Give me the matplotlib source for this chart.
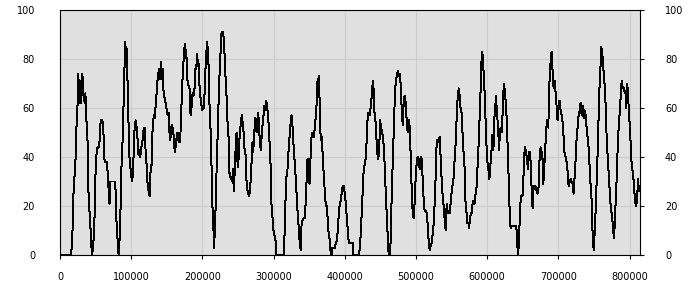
import numpy as np
import matplotlib
matplotlib.use("Agg")
import matplotlib.pyplot as plt

# values (x in thousands, y in %)
x_k = [0, 14.5, 15.4, 16.8, 17.8, 19.2, 20.6, 22.0, 23.4, 24.8, 25.7, 26.7, 27.1, 28.1, 29.0, 29.9,
       30.9, 32.3, 33.2, 34.2, 35.1, 35.6, 36.5, 37.4, 38.8, 39.8, 41.2, 42.6, 44.0, 44.9, 46.3,
       47.3, 48.7, 50.1, 51.5, 52.9, 54.7, 55.7, 57.1, 59.4, 60.8, 61.8, 63.2, 65.5, 66.4, 67.8,
       68.8, 69.7, 70.6, 77.7, 78.6, 80.0, 81.4, 82.3, 83.3, 84.7, 85.6, 87.0, 88.4, 89.8, 90.8,
       91.7, 92.6, 93.6, 94.5, 95.4, 96.8, 97.8, 99.2, 101.1, 102.5, 103.9, 104.8, 106.2, 107.6,
       109.0, 109.9, 111.3, 112.7, 114.2, 115.6, 117.0, 117.9, 119.3, 120.2, 121.6, 123.0, 124.4,
       125.8, 127.3, 128.7, 129.6, 131.0, 131.9, 133.3, 134.3, 135.7, 137.1, 138.5, 139.4, 140.4,
       141.8, 142.7, 144.1, 145.0, 146.4, 147.8, 149.2, 150.2, 151.1, 152.5, 153.5, 154.9, 156.3,
       157.2, 158.6, 159.5, 160.5, 161.9, 162.8, 164.2, 165.1, 166.1, 167.5, 168.9, 169.8, 171.2,
       172.2, 173.6, 174.5, 175.9, 176.8, 178.2, 179.2, 180.6, 182.0, 182.9, 184.3, 185.3, 186.7,
       187.6, 189.0, 189.9, 191.3, 192.7, 193.7, 194.6, 195.6, 196.5, 197.9, 198.8, 199.8, 201.2,
       202.1, 203.0, 204.0, 205.4, 206.8, 207.7, 208.7, 210.1, 211.5, 212.4, 213.8, 215.2, 216.6,
       217.5, 219.0, 220.4, 221.8, 223.2, 224.6, 225.5, 226.9, 229.2, 230.6, 231.6, 233.0, 233.9,
       235.3, 236.7, 237.7, 239.1, 240.5, 241.9, 242.8,
       244.2, 245.6, 247.0, 248.0, 248.9, 250.3, 251.2, 252.6, 254.0, 255.4, 256.4, 257.8, 259.2,
       260.6, 262.0, 263.4, 265.3, 266.7, 268.1, 269.5, 270.4, 271.3, 272.3, 273.2, 274.2, 275.1,
       276.1, 277.5, 278.4, 279.8, 280.7, 282.1, 283.1, 284.4, 285.9, 286.8, 288.2, 289.6, 290.5,
       291.5, 292.9, 294.3, 295.7, 297.1, 298.5, 299.9, 301.3, 302.7, 303.6, 314.4, 315.3, 316.7,
       318.1, 319.5, 320.9, 322.3, 323.7, 325.1, 326.1, 327.5, 328.9, 330.3, 331.7, 333.1, 334.5,
       335.9, 337.3, 338.3, 339.2, 340.6, 342.0, 343.4, 344.8, 346.2, 347.6, 349.5, 350.4, 351.4,
       352.8, 354.2, 355.6, 356.5, 357.9, 359.3, 360.7, 361.7, 363.1, 364.0, 364.9, 366.3, 367.7,
       369.1, 370.5, 371.9, 373.3, 374.7, 376.1, 377.5, 378.9, 380.3, 381.7, 382.7, 384.1, 386.0,
       387.4, 388.8, 390.2, 391.6, 393.0, 394.4, 395.8, 397.2, 398.6, 400.0, 401.4, 402.8, 404.2,
       405.6, 407.0, 409.4, 410.8, 411.7, 420.1, 421.0, 422.5, 423.9, 425.3, 426.7, 428.1, 429.5,
       430.9, 432.3, 433.7, 435.1, 436.5, 437.9, 439.3, 440.2, 441.2, 442.6, 444.0, 445.4, 446.8,
       448.2, 449.6, 451.0, 452.4, 453.8, 455.2, 456.6, 458.0, 459.4, 460.8, 461.8, 463.7, 464.6,
       466.0, 467.4, 468.8, 470.2, 471.6, 473.0, 474.4, 475.8, 477.2, 478.6, 480.0, 481.4, 482.8,
       484.2, 485.6, 487.0, 488.4, 489.8, 491.2, 492.6, 494.0, 495.4, 496.8, 498.2, 499.6, 501.0,
       502.4, 503.8, 505.2, 506.6, 508.0, 509.4, 510.8, 512.2, 513.6, 515.1, 516.5, 517.9, 519.3,
       520.7, 522.1, 523.5, 524.9, 526.3, 527.7, 529.1, 530.5, 531.9, 533.3, 534.7, 536.1, 537.5,
       538.9, 540.3, 541.7, 543.1, 544.5, 545.9, 547.4, 548.8, 550.2, 551.6, 553.0, 554.4, 555.8,
       557.2, 558.6, 560.0,
       561.4, 562.8, 564.2, 565.6, 567.0, 568.4, 569.4, 570.8, 572.2, 573.6, 574.5, 575.5, 576.9,
       578.3, 579.7, 581.1, 582.5, 583.9, 585.3, 586.7, 588.1, 589.5, 590.9, 591.8, 592.8, 593.7,
       594.6, 596.0, 597.4, 598.8, 600.3, 601.7, 603.1, 604.5, 605.9, 607.3, 608.7, 610.1, 611.5,
       612.4, 613.8, 615.2, 616.6, 618.0, 619.4, 620.8, 622.2, 623.6, 625.0, 626.4, 627.8, 629.2,
       630.6, 632.0, 633.4, 634.8, 636.2, 638.6, 640.9, 642.3, 643.2, 644.6, 646.0, 647.4, 648.8,
       650.3, 651.7, 653.1, 654.5, 655.9, 657.3, 658.7, 660.1, 661.5, 662.9, 663.8, 665.2, 666.6,
       668.0, 669.4, 670.8, 672.2, 673.6, 675.0, 676.0, 677.4, 678.8, 680.2, 681.6, 683.0, 684.4,
       685.8, 687.2, 688.6, 689.5, 690.5, 691.4, 692.4, 693.3, 694.7, 696.1, 697.1, 698.0, 698.9,
       700.3, 701.7, 703.1, 704.5, 705.9, 707.3, 708.7, 710.1, 711.6, 713.0, 714.4, 715.8, 717.2,
       718.6, 720.0, 721.4, 722.8, 724.2, 725.6, 727.0, 728.4, 729.8, 731.2, 732.6, 734.0, 735.4,
       736.8, 738.2, 739.6, 741.0, 742.4, 743.9, 745.3, 746.7, 748.1, 749.5, 750.9, 752.3, 753.7,
       755.1, 756.5, 757.9, 759.3, 760.3, 761.2, 762.6, 764.0, 765.4, 766.8, 768.2, 769.6, 771.0,
       772.4, 773.8, 775.2, 776.6, 778.0, 779.4, 780.8, 782.2, 783.6, 785.0, 786.4, 787.8, 788.8,
       789.7, 790.7, 792.1, 793.5, 794.4, 795.4, 796.3, 797.7, 799.1, 800.5, 801.9, 803.3, 804.7,
       806.2, 807.6, 809.0, 810.4, 811.8, 813.2, 814.6]

values = [0, 0, 0, 4, 12, 28, 33, 40, 55, 62, 74, 66, 71, 62, 71, 62,
          74, 72, 63, 65, 62, 66, 61, 53, 46, 27, 19, 12, 4, 0, 3,
          7, 17, 36, 42, 44, 44, 47, 55, 55, 53, 40, 38, 38, 36, 30,
          22, 21, 30, 30, 18, 10, 4, 0, 4, 13, 31, 40, 50, 69, 78,
          87, 81, 84, 75, 64, 47, 38, 35, 30, 33, 46, 52, 55, 52,
          47, 41, 43, 40, 44, 46, 50, 52, 52, 42, 37, 29, 26,
          24, 35, 37, 49, 55, 57, 56, 61, 66, 72, 75, 76, 72,
          79, 72, 76, 68, 65, 63, 60, 59, 57, 58, 51, 47, 52,
          53, 51, 49, 44, 42, 47, 48, 50, 47, 46, 46, 57, 64,
          73, 80, 84, 86, 81, 80, 70, 69, 68, 58, 57, 65, 66,
          65, 68, 76, 76, 82, 77, 78, 70, 68, 62, 61, 59, 60,
          60, 66, 74, 82, 87, 82, 77, 60, 51, 42, 22, 12, 3,
          12, 22, 42, 51, 69, 76, 83, 91, 91, 85, 78, 69, 65,
          54, 48, 34, 32, 31, 30, 35,
          26, 36, 46, 50, 39, 36, 43, 50, 54, 57, 54, 50, 43,
          41, 30, 26, 24, 26, 32, 40, 46, 42, 47, 52, 56, 54,
          50, 56, 58, 52, 45, 43, 48, 53, 57, 61, 59, 63, 61,
          59, 54, 46, 37, 20, 15, 10, 8, 6, 0, 0, 8, 22,
          32, 35, 42, 48, 53, 57, 55, 47, 41, 35, 28, 20, 15,
          8, 3, 2, 12, 14, 15, 15, 20, 30, 39, 39, 29, 36,
          47, 50, 50, 48, 52, 57, 63, 71, 72, 73, 56, 47, 48,
          40, 32, 26, 20, 20, 14, 8, 6, 0, 0, 3, 3, 3,
          5, 6, 10, 17, 21, 22, 26, 28, 28, 25, 21, 15, 10,
          5, 5, 5, 5, 0, 0, 3, 9, 18, 28, 36, 37, 40,
          48, 58, 57, 57, 61, 65, 71, 69, 59, 57, 50, 42, 39,
          42, 55, 52, 50, 48, 42, 32, 22, 14, 3, 0, 0, 9,
          26, 39, 52, 64, 71, 73, 75, 73, 74, 69, 59, 53, 63,
          65, 62, 54, 50, 55, 52, 40, 26, 17, 15, 22, 32, 38,
          40, 39, 35, 40, 39, 31, 22, 18, 18, 17, 12, 5, 2,
          4, 5, 9, 13, 22, 33, 47, 46, 47, 48, 39, 30, 24,
          20, 14, 10, 21, 17, 18, 17, 22, 26, 29, 32, 40, 46,
          57, 65, 68,
          65, 59, 58, 48, 41, 35, 22, 18, 13, 13, 11, 14, 17,
          17, 22, 22, 21, 26, 28, 38, 46, 57, 69, 78, 83, 81,
          76, 69, 57, 46, 38, 35, 31, 37, 42, 49, 43, 56, 61,
          65, 57, 53, 43, 51, 52, 50, 64, 70, 66, 61, 53, 39,
          28, 12, 11, 12, 12, 12, 12, 4, 0, 5, 18, 24, 24,
          25, 40, 44, 42, 39, 35, 42, 42, 35, 22, 19, 28, 28,
          28, 26, 25, 28, 40, 44, 39, 42, 29, 36, 44, 52, 55,
          52, 69, 77, 81, 83, 77, 72, 68, 71, 66, 63, 56, 55,
          62, 63, 59, 57, 54, 48, 41, 40, 38, 34, 28, 30, 31,
          30, 29, 25, 32, 39, 48, 52, 57, 59, 62, 57, 61, 56,
          59, 57, 52, 48, 44, 36, 28, 22, 8, 2, 9, 18, 30,
          42, 57, 70, 78, 85, 82, 80, 71, 69, 57, 44, 39, 31,
          25, 18, 17, 11, 7, 14, 25, 33, 48, 53, 60, 66, 71,
          69, 68, 68, 66, 67, 60, 70, 67, 57, 52, 42, 35, 34,
          28, 22, 20, 22, 31, 26, 28]

x = np.array(x_k) * 1000
y = np.array(values)

fig = plt.figure(figsize=(7, 3), dpi=100)
ax = fig.add_axes([60 / 700, 45 / 300, 580 / 700, 245 / 300])
ax.set_facecolor("#e0e0e0")

ax.plot(x, y, color="black", linewidth=0.72, antialiased=False)

ax.set_xlim(0, 814600)
ax.set_ylim(0, 100)
ax.set_xticks(np.arange(0, 800001, 100000))
ax.set_yticks(np.arange(0, 101, 20))
ax.grid(True, color="#cccccc", linewidth=0.8)
ax.set_axisbelow(True)

for s in ax.spines.values():
    s.set_color("black")
    s.set_linewidth(0.8)

ax.tick_params(axis="x", length=3, width=0.8, pad=9, labelsize=7)
ax.tick_params(axis="y", left=False, right=True, length=3, width=0.8,
               labelleft=True, labelright=True, labelsize=7, pad=15)

fig.savefig("out.png", dpi=100, facecolor="white")
